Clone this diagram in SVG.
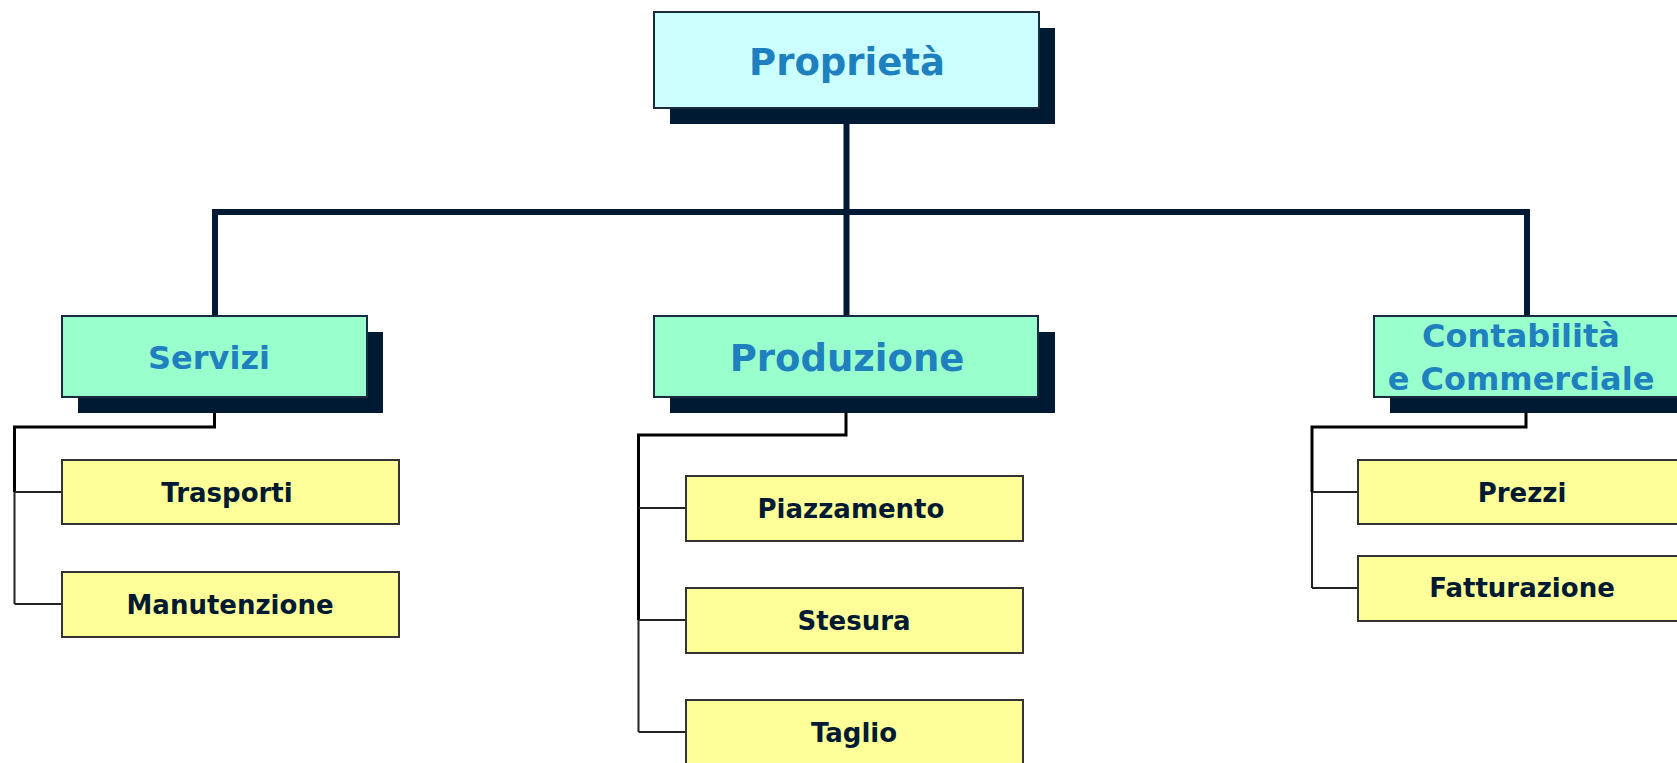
<svg xmlns="http://www.w3.org/2000/svg" width="1677" height="763" viewBox="0 0 1677 763">
<style>
.sh{fill:#001a33}
.top{fill:#ccffff;stroke:#1a2b40;stroke-width:2}
.mid{fill:#99ffcc;stroke:#1a2b40;stroke-width:2}
.leaf{fill:#ffff99;stroke:#333333;stroke-width:2}
.t{font-family:"DejaVu Sans","Liberation Sans",sans-serif;font-weight:bold;text-anchor:middle}
.tb{fill:#1f80bf}
.td{fill:#001a33;font-size:26px}
.main{fill:none;stroke:#001a33;stroke-width:6}
.thick{fill:none;stroke:#000000;stroke-width:3}
.thin{fill:none;stroke:#222222;stroke-width:2}
</style>
<rect width="1677" height="763" fill="#ffffff"/>
<g id="connectors">
<path class="main" d="M846.5 124 V316 M215 316 V212 H1527 V316"/>
<path class="thick" d="M214.5 397 V427 H14.5 V492"/>
<path class="thin" d="M14.5 492 V604 M14.5 492 H62 M14.5 604 H62"/>
<path class="thick" d="M846 397 V435 H638.5 V620"/>
<path class="thin" d="M638.5 620 V732 M638.5 508 H686 M638.5 620 H686 M638.5 732 H686"/>
<path class="thick" d="M1526 397 V427 H1312 V492"/>
<path class="thin" d="M1312 492 V588 M1312 492 H1358 M1312 588 H1358"/>
</g>
<g id="proprieta">
<rect class="sh" x="670" y="28" width="385" height="96"/>
<rect class="top" x="654" y="12" width="385" height="96"/>
<text class="t tb" x="847" y="75" font-size="37">Proprietà</text>
</g>
<g id="servizi">
<rect class="sh" x="78" y="332" width="305" height="81"/>
<rect class="mid" x="62" y="316" width="305" height="81"/>
<text class="t tb" x="209" y="369" font-size="32">Servizi</text>
</g>
<g id="produzione">
<rect class="sh" x="670" y="332" width="385" height="81"/>
<rect class="mid" x="654" y="316" width="384" height="81"/>
<text class="t tb" x="847" y="371" font-size="37">Produzione</text>
</g>
<g id="contabilita">
<rect class="sh" x="1390" y="332" width="384" height="81"/>
<rect class="mid" x="1374" y="316" width="384" height="81"/>
<text class="t tb" x="1521" y="347" font-size="32">Contabilità</text>
<text class="t tb" x="1521" y="390" font-size="32">e Commerciale</text>
</g>
<g id="trasporti">
<rect class="leaf" x="62" y="460" width="337" height="64"/>
<text class="t td" x="227" y="502">Trasporti</text>
</g>
<g id="manutenzione">
<rect class="leaf" x="62" y="572" width="337" height="65"/>
<text class="t td" x="230" y="614">Manutenzione</text>
</g>
<g id="piazzamento">
<rect class="leaf" x="686" y="476" width="337" height="65"/>
<text class="t td" x="851" y="518">Piazzamento</text>
</g>
<g id="stesura">
<rect class="leaf" x="686" y="588" width="337" height="65"/>
<text class="t td" x="854" y="630">Stesura</text>
</g>
<g id="taglio">
<rect class="leaf" x="686" y="700" width="337" height="66"/>
<text class="t td" x="854" y="742">Taglio</text>
</g>
<g id="prezzi">
<rect class="leaf" x="1358" y="460" width="337" height="64"/>
<text class="t td" x="1522" y="502">Prezzi</text>
</g>
<g id="fatturazione">
<rect class="leaf" x="1358" y="556" width="337" height="65"/>
<text class="t td" x="1522" y="597">Fatturazione</text>
</g>
</svg>
